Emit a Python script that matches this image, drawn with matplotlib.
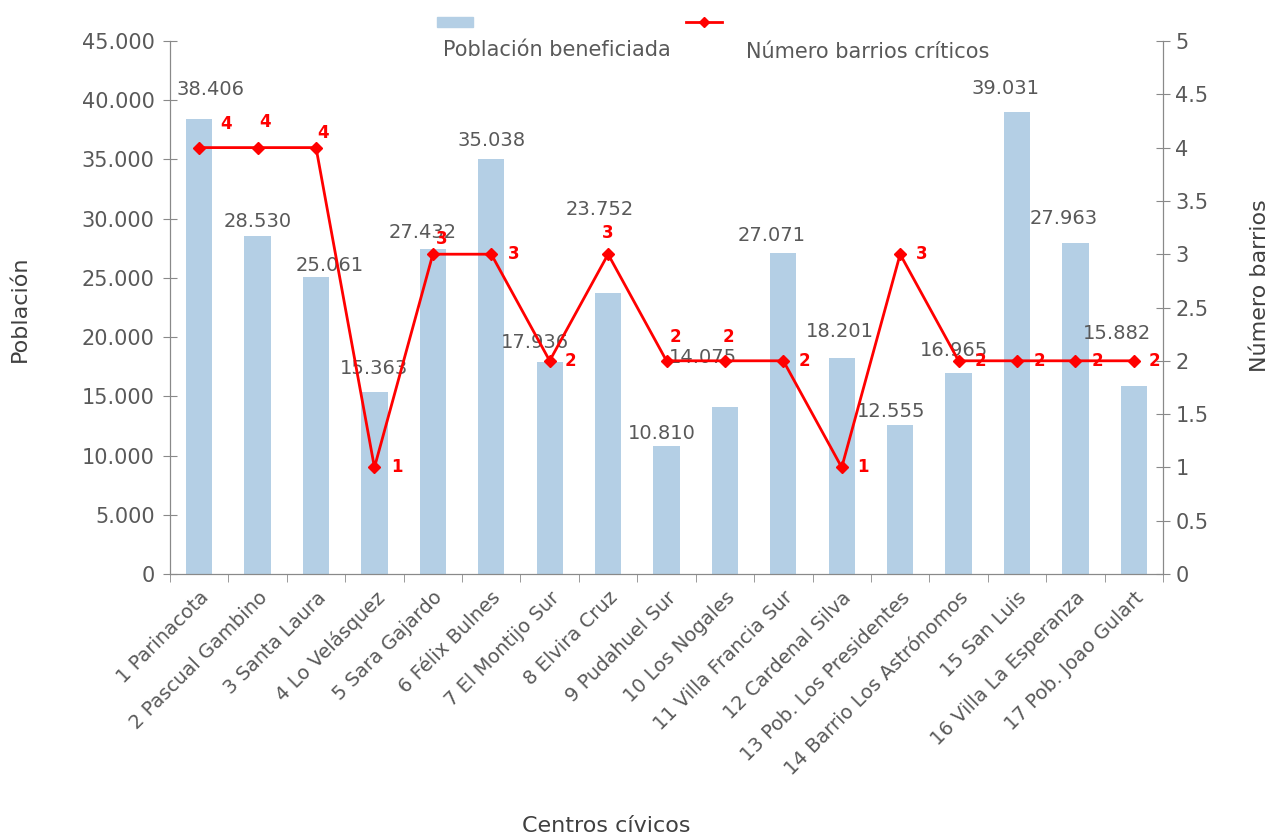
import matplotlib.pyplot as plt
import numpy as np
from matplotlib.patches import Rectangle
from matplotlib.lines import Line2D
from matplotlib.ticker import FuncFormatter

plt.rcParams['font.family'] = ['DejaVu Sans']

centros = ["1 Parinacota", "2 Pascual Gambino", "3 Santa Laura", "4 Lo Velásquez",
           "5 Sara Gajardo", "6 Félix Bulnes", "7 El Montijo Sur", "8 Elvira Cruz",
           "9 Pudahuel Sur", "10 Los Nogales", "11 Villa Francia Sur", "12 Cardenal Silva",
           "13 Pob. Los Presidentes", "14 Barrio Los Astrónomos", "15 San Luis",
           "16 Villa La Esperanza", "17 Pob. Joao Gulart"]
poblacion = [38406, 28530, 25061, 15363, 27432, 35038, 17936, 23752, 10810,
             14075, 27071, 18201, 12555, 16965, 39031, 27963, 15882]
barrios = [4, 4, 4, 1, 3, 3, 2, 3, 2, 2, 2, 1, 3, 2, 2, 2, 2]

gray = '#595959'
bar_color = '#b4cfe5'
red = '#ff0000'

# label nudges (pixels) as placed by hand in the original
bar_dx = [11, 0, 14, 0, -10, 0, -15, -8, -5, -22, -12, -2, -9, -5, -11, -12, -17]
bar_dy = [30, 15, 12, 24, 17, 18, 19, 83, 12, 50, 18, 27, 14, 23, 23, 24, 52]
num_off = [(27, 24), (7, 26), (7, 15), (22, 0), (9, 15), (22, 0), (21, 0), (0, 21),
           (9, 24), (4, 24), (21, 0), (21, 0), (22, 0), (22, 0), (22, 0), (22, 0), (21, 0)]

def miles(v, pos=None):
    return f"{int(v):,}".replace(",", ".")

fig = plt.figure(figsize=(12.69, 8.38), dpi=100)
ax = fig.add_axes([170/1269, 1-574/838, (1163-170)/1269, (574-41)/838])
ax2 = ax.twinx()

x = np.arange(len(centros))
ax.bar(x, poblacion, width=0.45, color=bar_color, zorder=1)
for xi, v, dx, dy in zip(x, poblacion, bar_dx, bar_dy):
    ax.annotate(miles(v), (xi, v), xytext=(dx*0.72, dy*0.72), textcoords='offset points',
                ha='center', va='center', fontsize=14, color=gray)

ax2.plot(x, barrios, color=red, lw=2, marker='D', markersize=6, zorder=3)
for xi, v, (dx, dy) in zip(x, barrios, num_off):
    ax2.annotate(str(v), (xi, v), xytext=(dx*0.72, dy*0.72), textcoords='offset points',
                 ha='center', va='center', fontsize=12, color=red, fontweight='bold')

ax.set_xlim(-0.5, len(centros) - 0.5)
ax.set_ylim(0, 45000)
ax.set_yticks(np.arange(0, 45001, 5000))
ax.yaxis.set_major_formatter(FuncFormatter(miles))
ax2.set_ylim(0, 5)
ax2.set_yticks(np.arange(0, 5.01, 0.5))
ax2.yaxis.set_major_formatter(FuncFormatter(lambda v, p: f"{v:g}"))

ax.set_xticks(x)
ax.set_xticklabels(centros, rotation=45, ha='right', rotation_mode='anchor',
                   fontsize=14, color=gray)
ax.set_xticks(np.arange(-0.5, len(centros)), minor=True)
ax.tick_params(axis='x', which='major', length=0, pad=10)
ax.tick_params(axis='x', which='minor', length=6, color='#898989', direction='out')
ax.tick_params(axis='y', labelsize=15, labelcolor=gray, color='#898989',
               direction='inout', length=10, pad=6)
ax2.tick_params(axis='y', labelsize=15, labelcolor=gray, color='#898989',
                direction='inout', length=10, pad=4)

for a in (ax, ax2):
    a.spines['top'].set_visible(False)
    for s in ('left', 'right', 'bottom'):
        a.spines[s].set_color('#898989')

fig.text(20/1269, 1-309/838, "Población", fontsize=16, color='#404040',
         rotation=90, ha='center', va='center')
fig.text(1260/1269, 1-286/838, "Número barrios", fontsize=16, color='#404040',
         rotation=90, ha='center', va='center')
fig.text(606/1269, 1-826/838, "Centros cívicos", fontsize=16, color='#404040',
         ha='center', va='center')

# legend with handles above the text
fig.patches.append(Rectangle((437/1269, 1-27/838), 36/1269, 10/838,
                             transform=fig.transFigure, color=bar_color))
fig.lines.append(Line2D([686/1269, 704/1269, 722/1269], [1-22/838]*3,
                        transform=fig.transFigure, color=red, lw=2,
                        marker='D', markersize=5, markevery=[1]))
fig.text(443/1269, 1-50/838, "Población beneficiada", fontsize=15, color=gray,
         ha='left', va='center')
fig.text(746/1269, 1-52/838, "Número barrios críticos", fontsize=15, color=gray,
         ha='left', va='center')

plt.savefig("out.png")
